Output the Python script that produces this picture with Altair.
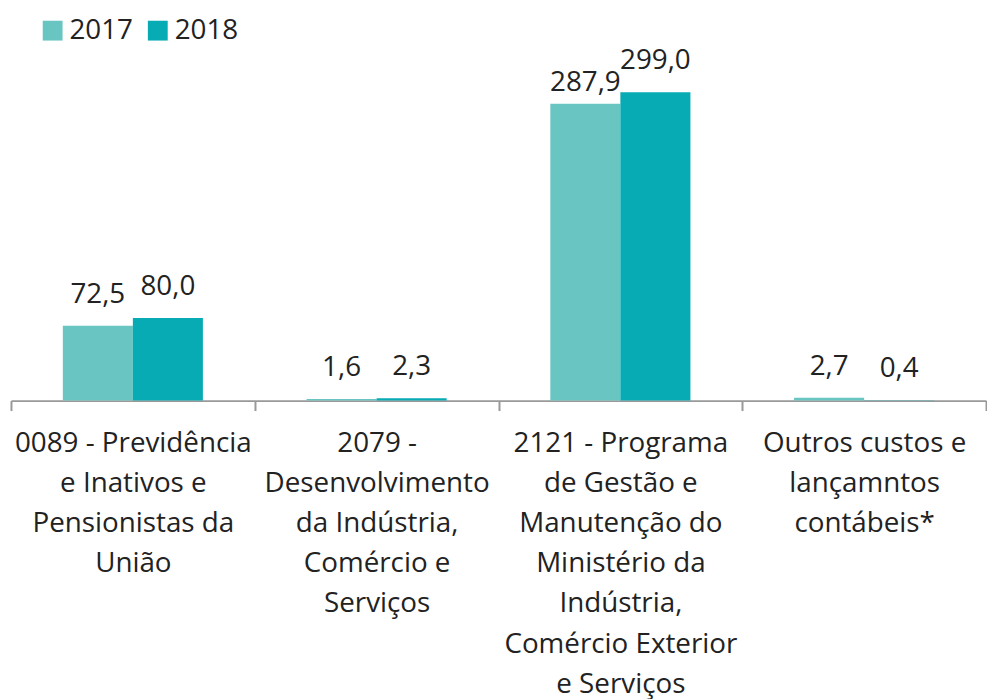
import altair as alt
import pandas as pd

categories = [
    "0089 - Previdência|e Inativos e|Pensionistas da|União",
    "2079 -|Desenvolvimento|da Indústria,|Comércio e|Serviços",
    "2121 - Programa|de Gestão e|Manutenção do|Ministério da|Indústria,|Comércio Exterior|e Serviços",
    "Outros custos e|lançamntos|contábeis*",
]
values_2017 = [72.5, 1.6, 287.9, 2.7]
values_2018 = [80.0, 2.3, 299.0, 0.4]
years = ["2017", "2018"]
colors = ["#68C5C2", "#07ABB3"]

rows = []
for c, a, b in zip(categories, values_2017, values_2018):
    rows.append({"cat": c, "ano": "2017", "valor": a})
    rows.append({"cat": c, "ano": "2018", "valor": b})
df = pd.DataFrame(rows)
df["rotulo"] = df["valor"].map(lambda v: f"{v:.1f}".replace(".", ","))

FONT = "Open Sans"
FS = 28

x = alt.X(
    "cat:N",
    sort=categories,
    title=None,
    scale=alt.Scale(paddingInner=0, paddingOuter=0),
    axis=alt.Axis(
        labelExpr="split(datum.label, '|')",
        labelAngle=0,
        labelFont=FONT,
        labelFontSize=FS,
        labelColor="#222222",
        labelLineHeight=40.5,
        labelPadding=19,
        labelBaseline="top",
        labelLimit=400,
        domainColor="#999999",
        domainWidth=2,
        tickColor="#999999",
        tickWidth=2,
        tickSize=10,
        tickBand="extent",
    ),
)
y = alt.Y("valor:Q", axis=None, scale=alt.Scale(domain=[0, 378], nice=False, zero=True))
xo = alt.XOffset("ano:N", sort=years, scale=alt.Scale(paddingInner=0, paddingOuter=0.74))

bars = alt.Chart(df).mark_bar().encode(
    x=x,
    xOffset=xo,
    y=y,
    color=alt.Color(
        "ano:N",
        sort=years,
        scale=alt.Scale(domain=years, range=colors),
        legend=alt.Legend(
            title=None,
            orient="none",
            legendX=28,
            legendY=6,
            direction="horizontal",
            symbolType="square",
            symbolSize=400,
            symbolStrokeWidth=0,
            labelFont=FONT,
            labelFontSize=FS,
            labelColor="#222222",
            columnPadding=10,
            labelOffset=3,
        ),
    ),
)

# Excel placed the 287,9 label a little lower than the others to avoid overlap
lowered = "datum.ano == '2017' && datum.valor > 200"
text_main = alt.Chart(df).transform_filter(f"!({lowered})").mark_text(
    font=FONT, fontSize=FS, color="#222222", baseline="alphabetic", dy=-23
).encode(x=x, xOffset=xo, y=y, text="rotulo:N")
text_low = alt.Chart(df).transform_filter(lowered).mark_text(
    font=FONT, fontSize=FS, color="#222222", baseline="alphabetic", dy=-13
).encode(x=x, xOffset=xo, y=y, text="rotulo:N")

chart = (
    alt.layer(bars, text_main, text_low)
    .properties(width=983, height=393, padding={"left": 2, "top": 0, "right": 0, "bottom": 0})
    .configure_view(stroke=None)
)

chart.save("out.html", embed_options={"renderer": "svg", "actions": False})
